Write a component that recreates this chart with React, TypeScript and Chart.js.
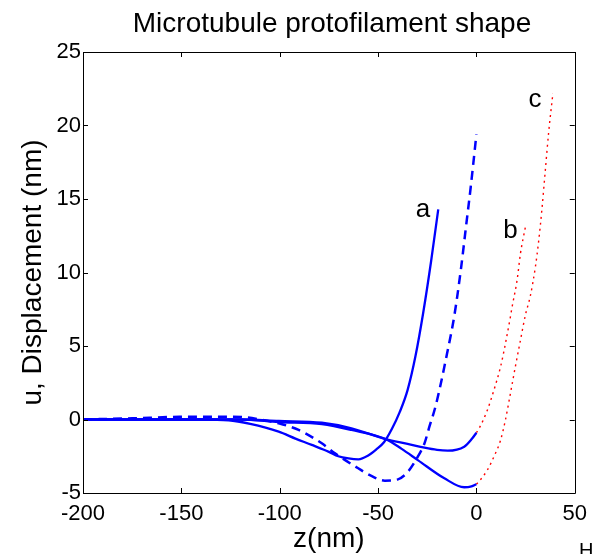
import React, { useEffect, useRef } from "react";
import { Chart, registerables } from "chart.js";

Chart.register(...registerables);

// ---- Data ----
const X_TICKS = [-200, -150, -100, -50, 0, 50];
const Y_TICKS = [-5, 0, 5, 10, 15, 20, 25];

// curve a (solid blue)
const Z_A = [-200, -140, -126, -115, -100.5, -92, -83.7, -75, -70.2, -65, -60, -55, -51, -47, -43, -39, -35, -31, -27, -23, -19.4];
const U_A = [0, 0, -0.05, -0.3, -0.83, -1.3, -1.73, -2.2, -2.5, -2.65, -2.71, -2.45, -2.05, -1.55, -0.65, 0.5, 2.0, 4.3, 7.3, 10.8, 14.3];

// dashed blue curve
const Z_D = [-200, -175, -151, -126, -117, -109, -100.5, -90.4, -78.6, -71.9, -60.1, -53.4, -46.6, -39.9, -34.8, -29.8, -26.4, -23.9, -20.6, -14.6, -11.3, -7.9, -5.4, -2.9, 0];
const U_D = [0, 0.08, 0.18, 0.19, 0.15, -0.03, -0.26, -0.71, -1.62, -2.3, -3.32, -3.84, -4.16, -4.07, -3.55, -2.53, -1.62, -0.49, 0.99, 4.7, 7.0, 10.2, 13.0, 15.8, 19.4];

// curve b (solid blue part, then red dotted part)
const Z_B = [-200, -120, -100.5, -78.6, -63.5, -45.8, -35, -26.4, -20, -14.6, -6.2, -2.5, 0];
const U_B = [0, 0, -0.1, -0.22, -0.6, -1.35, -1.65, -1.92, -2.07, -2.12, -1.85, -1.35, -0.9];
const Z_B2 = [0, 1.4, 5.6, 8.9, 12.3, 14.8, 17.3, 18.2, 20.7, 22.4, 24.9];
const U_B2 = [-0.9, -0.6, 0.65, 2.0, 3.6, 5.2, 7.0, 7.7, 9.5, 11.3, 13.1];

// curve c (solid blue part, then red dotted part)
const Z_C = [-200, -120, -100.5, -78.6, -63.5, -45.8, -38, -29.8, -16.3, -6.2, -2.5, 0];
const U_C = [0, 0, -0.17, -0.31, -0.71, -1.35, -2.0, -2.76, -4.0, -4.61, -4.55, -4.4];
const Z_C2 = [0, 1.4, 5.6, 8.9, 12.3, 14.8, 17.3, 19.8, 22.4, 24.9, 27.4, 30, 31.7, 33.3, 35, 36.7, 38.9];
const U_C2 = [-4.4, -4.2, -3.43, -2.53, -1.4, 0, 1.78, 3.6, 5.4, 7.1, 8.4, 10.4, 12.2, 14.3, 16.9, 19.5, 22.2];

const CURVE_LABELS = ["a", "b", "c"];
const LABEL_POS = [
  { x: -30.8, y: 13.8 },
  { x: 13.6, y: 12.35 },
  { x: 26.5, y: 21.25 },
];

const TITLE = "Microtubule protofilament shape";
const X_LABEL = "z(nm)";
const Y_LABEL = "u, Displacement (nm)";

const FONT = '"Liberation Sans", Arial, Helvetica, sans-serif';

const pts = (zs: number[], us: number[]) => zs.map((z, i) => ({ x: z, y: us[i] }));

const W = 595;
const H = 554;
const PLOT = { left: 83, right: 578, top: 52, bottom: 493 };

const decorPlugin = {
  id: "decor",
  afterDraw(chart: any) {
    const ctx = chart.ctx as CanvasRenderingContext2D;
    const xs = chart.scales.x;
    const ys = chart.scales.y;
    const { left, right, top, bottom } = chart.chartArea;
    ctx.save();
    // box
    ctx.strokeStyle = "#000";
    ctx.lineWidth = 1;
    ctx.beginPath();
    ctx.rect(Math.round(left) + 0.5, Math.round(top) + 0.5, Math.round(right - left), Math.round(bottom - top));
    ctx.stroke();
    // inward ticks
    const TL = 5;
    ctx.beginPath();
    X_TICKS.forEach((v) => {
      const px = Math.round(xs.getPixelForValue(v)) + 0.5;
      ctx.moveTo(px, bottom);
      ctx.lineTo(px, bottom - TL);
      ctx.moveTo(px, top);
      ctx.lineTo(px, top + TL);
    });
    Y_TICKS.forEach((v) => {
      const py = Math.round(ys.getPixelForValue(v)) + 0.5;
      ctx.moveTo(left, py);
      ctx.lineTo(left + TL, py);
      ctx.moveTo(right, py);
      ctx.lineTo(right - TL, py);
    });
    ctx.stroke();

    ctx.fillStyle = "#000";
    // title
    ctx.font = `28px ${FONT}`;
    ctx.textAlign = "center";
    ctx.textBaseline = "alphabetic";
    ctx.fillText(TITLE, 332, 32);
    // x label
    ctx.fillText(X_LABEL, (left + right) / 2, 547);
    // y label
    ctx.save();
    ctx.translate(33, (top + bottom) / 2);
    ctx.rotate(-Math.PI / 2);
    ctx.textBaseline = "middle";
    ctx.fillText(Y_LABEL, 0, 0);
    ctx.restore();
    // curve labels
    ctx.font = `26px ${FONT}`;
    ctx.textAlign = "left";
    ctx.textBaseline = "alphabetic";
    CURVE_LABELS.forEach((t, i) => {
      const p = LABEL_POS[i];
      ctx.fillText(t, xs.getPixelForValue(p.x), ys.getPixelForValue(p.y));
    });
    // cropped stray text at bottom right
    ctx.font = `20px ${FONT}`;
    ctx.fillText("H", 579, 557);
    ctx.restore();
  },
};

export default function App() {
  const ref = useRef<HTMLCanvasElement | null>(null);
  useEffect(() => {
    if (!ref.current) return;
    const blue = "#0000ff";
    const red = "#ff0000";
    const base = { pointRadius: 0, fill: false, cubicInterpolationMode: "monotone" as const };
    const chart = new Chart(ref.current, {
      type: "line",
      data: {
        datasets: [
          { ...base, data: pts(Z_A, U_A), borderColor: blue, borderWidth: 2.3 },
          { ...base, data: pts(Z_D, U_D), borderColor: blue, borderWidth: 2.5, borderDash: [9, 6] },
          { ...base, data: pts(Z_B, U_B), borderColor: blue, borderWidth: 2.3 },
          { ...base, data: pts(Z_C, U_C), borderColor: blue, borderWidth: 2.3 },
          { ...base, data: pts(Z_B2, U_B2), borderColor: red, borderWidth: 1.4, borderDash: [2, 4] },
          { ...base, data: pts(Z_C2, U_C2), borderColor: red, borderWidth: 1.4, borderDash: [2, 4] },
        ],
      },
      options: {
        animation: false,
        responsive: false,
        devicePixelRatio: 1,
        layout: { padding: { left: 0, right: W - PLOT.right, top: PLOT.top, bottom: 0 } },
        plugins: { legend: { display: false }, tooltip: { enabled: false }, title: { display: false } },
        scales: {
          x: {
            type: "linear",
            min: -200,
            max: 50,
            afterBuildTicks: (s: any) => {
              s.ticks = X_TICKS.map((v) => ({ value: v }));
            },
            afterFit: (s: any) => {
              s.height = H - PLOT.bottom;
            },
            grid: { display: false, drawTicks: false },
            border: { display: false },
            ticks: { color: "#000", font: { family: FONT, size: 22 }, padding: 8, maxRotation: 0, autoSkip: false },
          },
          y: {
            type: "linear",
            min: -5,
            max: 25,
            afterBuildTicks: (s: any) => {
              s.ticks = Y_TICKS.map((v) => ({ value: v }));
            },
            afterFit: (s: any) => {
              s.width = PLOT.left;
            },
            grid: { display: false, drawTicks: false },
            border: { display: false },
            ticks: { color: "#000", font: { family: FONT, size: 22 }, padding: 2, autoSkip: false },
          },
        },
      },
      plugins: [decorPlugin],
    });
    return () => chart.destroy();
  }, []);
  return (
    <div style={{ position: "fixed", left: 0, top: 0, width: W, height: H, background: "#fff" }}>
      <canvas ref={ref} width={W} height={H} style={{ display: "block" }} />
    </div>
  );
}
